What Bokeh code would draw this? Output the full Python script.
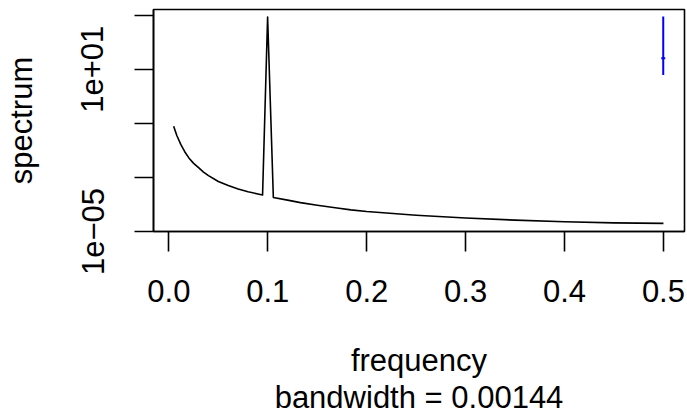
from bokeh.plotting import figure
from bokeh.models import Range1d, FixedTicker
from bokeh.embed import file_html
from bokeh.resources import INLINE

# ---- data ----
freq = [0.0048, 0.008, 0.012, 0.016, 0.02, 0.025, 0.03, 0.035, 0.04, 0.05,
        0.06, 0.07, 0.08, 0.09, 0.0947, 0.0998, 0.1056, 0.12, 0.133, 0.15,
        0.17, 0.184, 0.2, 0.25, 0.3, 0.35, 0.4, 0.45, 0.5]
spec = [0.0776, 0.0355, 0.0166, 0.00891, 0.00537, 0.00331, 0.00229, 0.00158,
        0.00117, 7.08e-4, 5.01e-4, 3.72e-4, 2.95e-4, 2.45e-4, 2.24e-4, 851.0,
        1.82e-4, 1.45e-4, 1.17e-4, 9.33e-5, 7.41e-5, 6.31e-5, 5.50e-5, 3.98e-5,
        3.16e-5, 2.63e-5, 2.29e-5, 2.09e-5, 2.00e-5]
ci_x = 0.4998
ci_low, ci_mid, ci_high = 6.17, 25.7, 891.0
ci_half_w = 0.002

x_ticks = [0.0, 0.1, 0.2, 0.3, 0.4, 0.5]
x_labels = ["0.0", "0.1", "0.2", "0.3", "0.4", "0.5"]
y_ticks = [1e-5, 1e-3, 1e-1, 1e1, 1e3]
y_labels = ["1e\u221205", "", "", "1e+01", ""]
x_title = "frequency"
sub_title = "bandwidth = 0.00144"
y_title = "spectrum"

FONT = "Liberation Sans"
FS = "31px"

p = figure(width=687, height=418, output_backend="svg", toolbar_location=None,
           y_axis_type="log",
           x_range=Range1d(-0.01557, 0.5213), y_range=Range1d(1e-5, 10 ** 3.21),
           min_border_left=153, min_border_right=3, min_border_top=9,
           min_border_bottom=187)
p.background_fill_color = "white"
p.border_fill_color = "white"
p.outline_line_color = "black"
p.outline_line_width = 1.6
p.grid.visible = False

p.line(freq, spec, line_color="black", line_width=1.6, line_join="round")
p.segment(x0=[ci_x], y0=[ci_low], x1=[ci_x], y1=[ci_high], line_color="blue", line_width=2)
p.segment(x0=[ci_x - ci_half_w], y0=[ci_mid], x1=[ci_x + ci_half_w], y1=[ci_mid],
          line_color="blue", line_width=2)

xa = p.xaxis[0]
xa.ticker = FixedTicker(ticks=x_ticks)
xa.major_label_overrides = dict(zip(x_ticks, x_labels))
xa.axis_label = x_title + "\n" + sub_title

ya = p.yaxis[0]
ya.ticker = FixedTicker(ticks=y_ticks)
ya.major_label_overrides = dict(zip(y_ticks, y_labels))
ya.major_label_orientation = "vertical"
ya.axis_label = y_title

for ax in (xa, ya):
    ax.axis_line_color = "black"
    ax.axis_line_width = 1.6
    ax.major_tick_line_color = "black"
    ax.major_tick_line_width = 1.6
    ax.major_tick_in = 0
    ax.minor_tick_in = 0
    ax.minor_tick_out = 0
    ax.major_label_text_font = FONT
    ax.major_label_text_font_size = FS
    ax.major_label_text_color = "black"
    ax.axis_label_text_font = FONT
    ax.axis_label_text_font_size = FS
    ax.axis_label_text_font_style = "normal"
    ax.axis_label_text_color = "black"

xa.major_tick_out = 20
xa.major_label_standoff = 28
xa.axis_label_standoff = 38
xa.axis_label_text_line_height = 1.08
ya.major_tick_out = 19
ya.major_label_standoff = 31
ya.axis_label_standoff = 40

open("out.html", "w").write(file_html(p, INLINE))
